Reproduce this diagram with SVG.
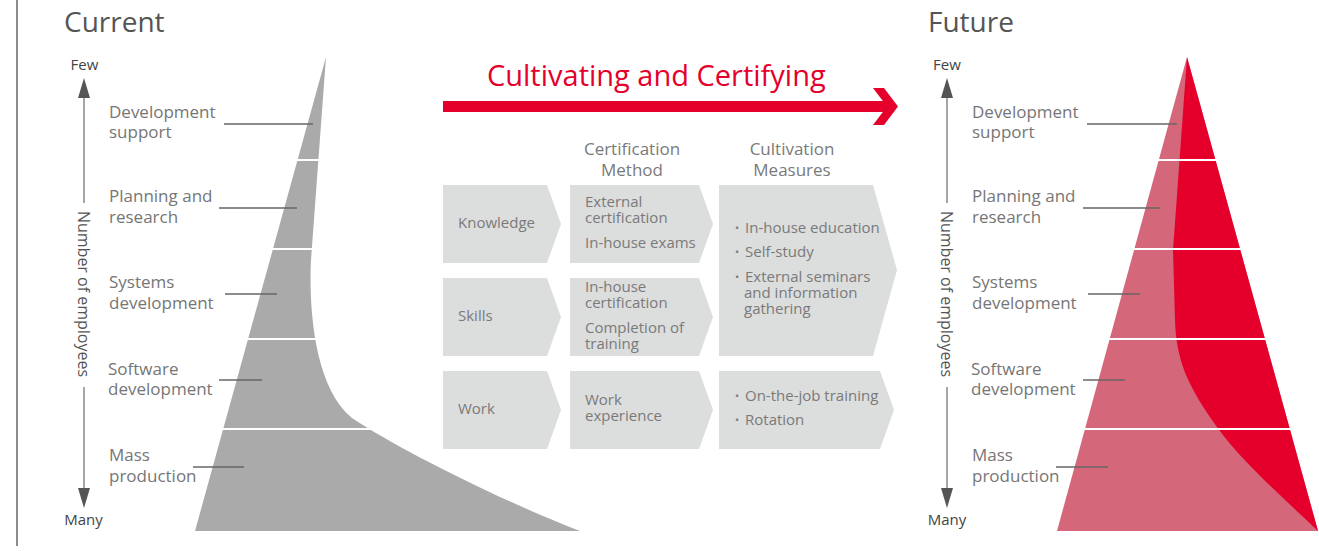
<svg xmlns="http://www.w3.org/2000/svg" width="1319" height="551" viewBox="0 0 1319 551">
<style>
text{font-family:"Open Sans","Liberation Sans",sans-serif;}
.title{font-size:28px;fill:#555;}
.axis{font-size:15px;fill:#444;}
.vert{font-size:16px;fill:#555;}
.lbl{font-size:17px;fill:#767676;}
.lead{stroke:#666;stroke-width:1.5;fill:none;}
.aline{stroke:#888;stroke-width:1.5;fill:none;}
.ahead{fill:#555;}
.band{stroke:#fff;stroke-width:2;}
.chev{fill:#dcdddd;}
.ct{font-size:15px;fill:#7a7a7a;}
.hd{font-size:17px;fill:#7a7a7a;text-anchor:middle;}
.bul{font-size:11px;}
</style>
<rect width="1319" height="551" fill="#fff"/>
<line x1="17" y1="0" x2="17" y2="546" stroke="#666" stroke-width="1.5"/>

<g id="current">
<text class="title" x="64" y="32">Current</text>
<text class="axis" x="84.5" y="70" text-anchor="middle">Few</text>
<line class="aline" x1="84" y1="96" x2="84" y2="203"/>
<polygon class="ahead" points="84,78 78,98 90,98"/>
<text class="vert" transform="translate(78,294) rotate(90)" text-anchor="middle">Number of employees</text>
<line class="aline" x1="84" y1="387" x2="84" y2="490"/>
<polygon class="ahead" points="78,488 90,488 84,508"/>
<text class="axis" x="83.5" y="525" text-anchor="middle">Many</text>
<path d="M326,57 L311,260 C309,300 312,385 352,418 C400,450 500,500 580,531 L195,531 Z" fill="#aaaaaa"/>
<line class="band" x1="290" y1="160" x2="325" y2="160"/>
<line class="band" x1="265" y1="249" x2="320" y2="249"/>
<line class="band" x1="240" y1="339" x2="320" y2="339"/>
<line class="band" x1="215" y1="429" x2="372" y2="429"/>
<text class="lbl" x="109" y="118">Development</text>
<text class="lbl" x="109" y="138">support</text>
<line class="lead" x1="224" y1="124" x2="313" y2="124"/>
<text class="lbl" x="109" y="202">Planning and</text>
<text class="lbl" x="109" y="223">research</text>
<line class="lead" x1="219" y1="208" x2="297" y2="208"/>
<text class="lbl" x="109" y="288">Systems</text>
<text class="lbl" x="109" y="309">development</text>
<line class="lead" x1="225" y1="294" x2="277" y2="294"/>
<text class="lbl" x="108" y="375">Software</text>
<text class="lbl" x="108" y="395">development</text>
<line class="lead" x1="219" y1="380" x2="262" y2="380"/>
<text class="lbl" x="109" y="461">Mass</text>
<text class="lbl" x="109" y="482">production</text>
<line class="lead" x1="193" y1="467" x2="244" y2="467"/>
</g>

<g id="arrow-main">
<text x="487" y="86" font-size="29" fill="#e4002b">Cultivating and Certifying</text>
<rect x="443" y="101" width="444" height="11" fill="#e4002b"/>
<polygon points="873,88 884,88 898,106.5 884,125 873,125 887,106.5" fill="#e4002b"/>
</g>

<g id="headers">
<text class="hd" x="632" y="155">Certification</text>
<text class="hd" x="632" y="176">Method</text>
<text class="hd" x="792" y="155">Cultivation</text>
<text class="hd" x="792" y="176">Measures</text>
</g>

<g id="row-knowledge">
<polygon class="chev" points="443,185 547,185 561,224 547,263 443,263"/>
<text class="ct" x="458" y="228">Knowledge</text>
<polygon class="chev" points="570,185 699,185 713,224 699,263 570,263"/>
<text class="ct" x="585" y="207">External</text>
<text class="ct" x="585" y="223">certification</text>
<text class="ct" x="585" y="248">In-house exams</text>
</g>

<g id="row-skills">
<polygon class="chev" points="443,278 547,278 561,317 547,356 443,356"/>
<text class="ct" x="458" y="321">Skills</text>
<polygon class="chev" points="570,278 699,278 713,317 699,356 570,356"/>
<text class="ct" x="585" y="292">In-house</text>
<text class="ct" x="585" y="308">certification</text>
<text class="ct" x="585" y="333">Completion of</text>
<text class="ct" x="585" y="349">training</text>
</g>

<g id="cultivation-1">
<polygon class="chev" points="719,185 873,185 897,270 873,356 719,356"/>
<text class="ct" x="735" y="233"><tspan class="bul" dy="-1">•</tspan><tspan x="745" dy="1">In-house education</tspan></text>
<text class="ct" x="735" y="257"><tspan class="bul" dy="-1">•</tspan><tspan x="745" dy="1">Self-study</tspan></text>
<text class="ct" x="735" y="282"><tspan class="bul" dy="-1">•</tspan><tspan x="745" dy="1">External seminars</tspan></text>
<text class="ct" x="744" y="298">and information</text>
<text class="ct" x="744" y="314">gathering</text>
</g>

<g id="row-work">
<polygon class="chev" points="443,371 547,371 561,410 547,449 443,449"/>
<text class="ct" x="458" y="414">Work</text>
<polygon class="chev" points="570,371 699,371 713,410 699,449 570,449"/>
<text class="ct" x="585" y="405">Work</text>
<text class="ct" x="585" y="421">experience</text>
<polygon class="chev" points="719,371 880,371 894,410 880,449 719,449"/>
<text class="ct" x="735" y="401"><tspan class="bul" dy="-1">•</tspan><tspan x="745" dy="1">On-the-job training</tspan></text>
<text class="ct" x="735" y="425"><tspan class="bul" dy="-1">•</tspan><tspan x="745" dy="1">Rotation</tspan></text>
</g>

<g id="future">
<text class="title" x="928" y="32">Future</text>
<text class="axis" x="947" y="70" text-anchor="middle">Few</text>
<line class="aline" x1="947" y1="96" x2="947" y2="203"/>
<polygon class="ahead" points="947,78 941,98 953,98"/>
<text class="vert" transform="translate(941,294) rotate(90)" text-anchor="middle">Number of employees</text>
<line class="aline" x1="947" y1="387" x2="947" y2="490"/>
<polygon class="ahead" points="941,488 953,488 947,508"/>
<text class="axis" x="947" y="525" text-anchor="middle">Many</text>
<polygon points="1187,57 1318,531 1057,531" fill="#d5677b"/>
<path d="M1187,57 L1318,531 C1280,495 1235,455 1212,420 C1188,385 1176,360 1175,320 L1173,250 Z" fill="#e4002b"/>
<line class="band" x1="1150" y1="160" x2="1222" y2="160"/>
<line class="band" x1="1120" y1="249" x2="1248" y2="249"/>
<line class="band" x1="1094" y1="339" x2="1274" y2="339"/>
<line class="band" x1="1080" y1="429" x2="1295" y2="429"/>
<text class="lbl" x="972" y="118">Development</text>
<text class="lbl" x="972" y="138">support</text>
<line class="lead" x1="1087" y1="124" x2="1177" y2="124"/>
<text class="lbl" x="972" y="202">Planning and</text>
<text class="lbl" x="972" y="223">research</text>
<line class="lead" x1="1083" y1="208" x2="1160" y2="208"/>
<text class="lbl" x="972" y="288">Systems</text>
<text class="lbl" x="972" y="309">development</text>
<line class="lead" x1="1088" y1="294" x2="1140" y2="294"/>
<text class="lbl" x="971" y="375">Software</text>
<text class="lbl" x="971" y="395">development</text>
<line class="lead" x1="1083" y1="380" x2="1125" y2="380"/>
<text class="lbl" x="972" y="461">Mass</text>
<text class="lbl" x="972" y="482">production</text>
<line class="lead" x1="1056" y1="467" x2="1108" y2="467"/>
</g>
</svg>
